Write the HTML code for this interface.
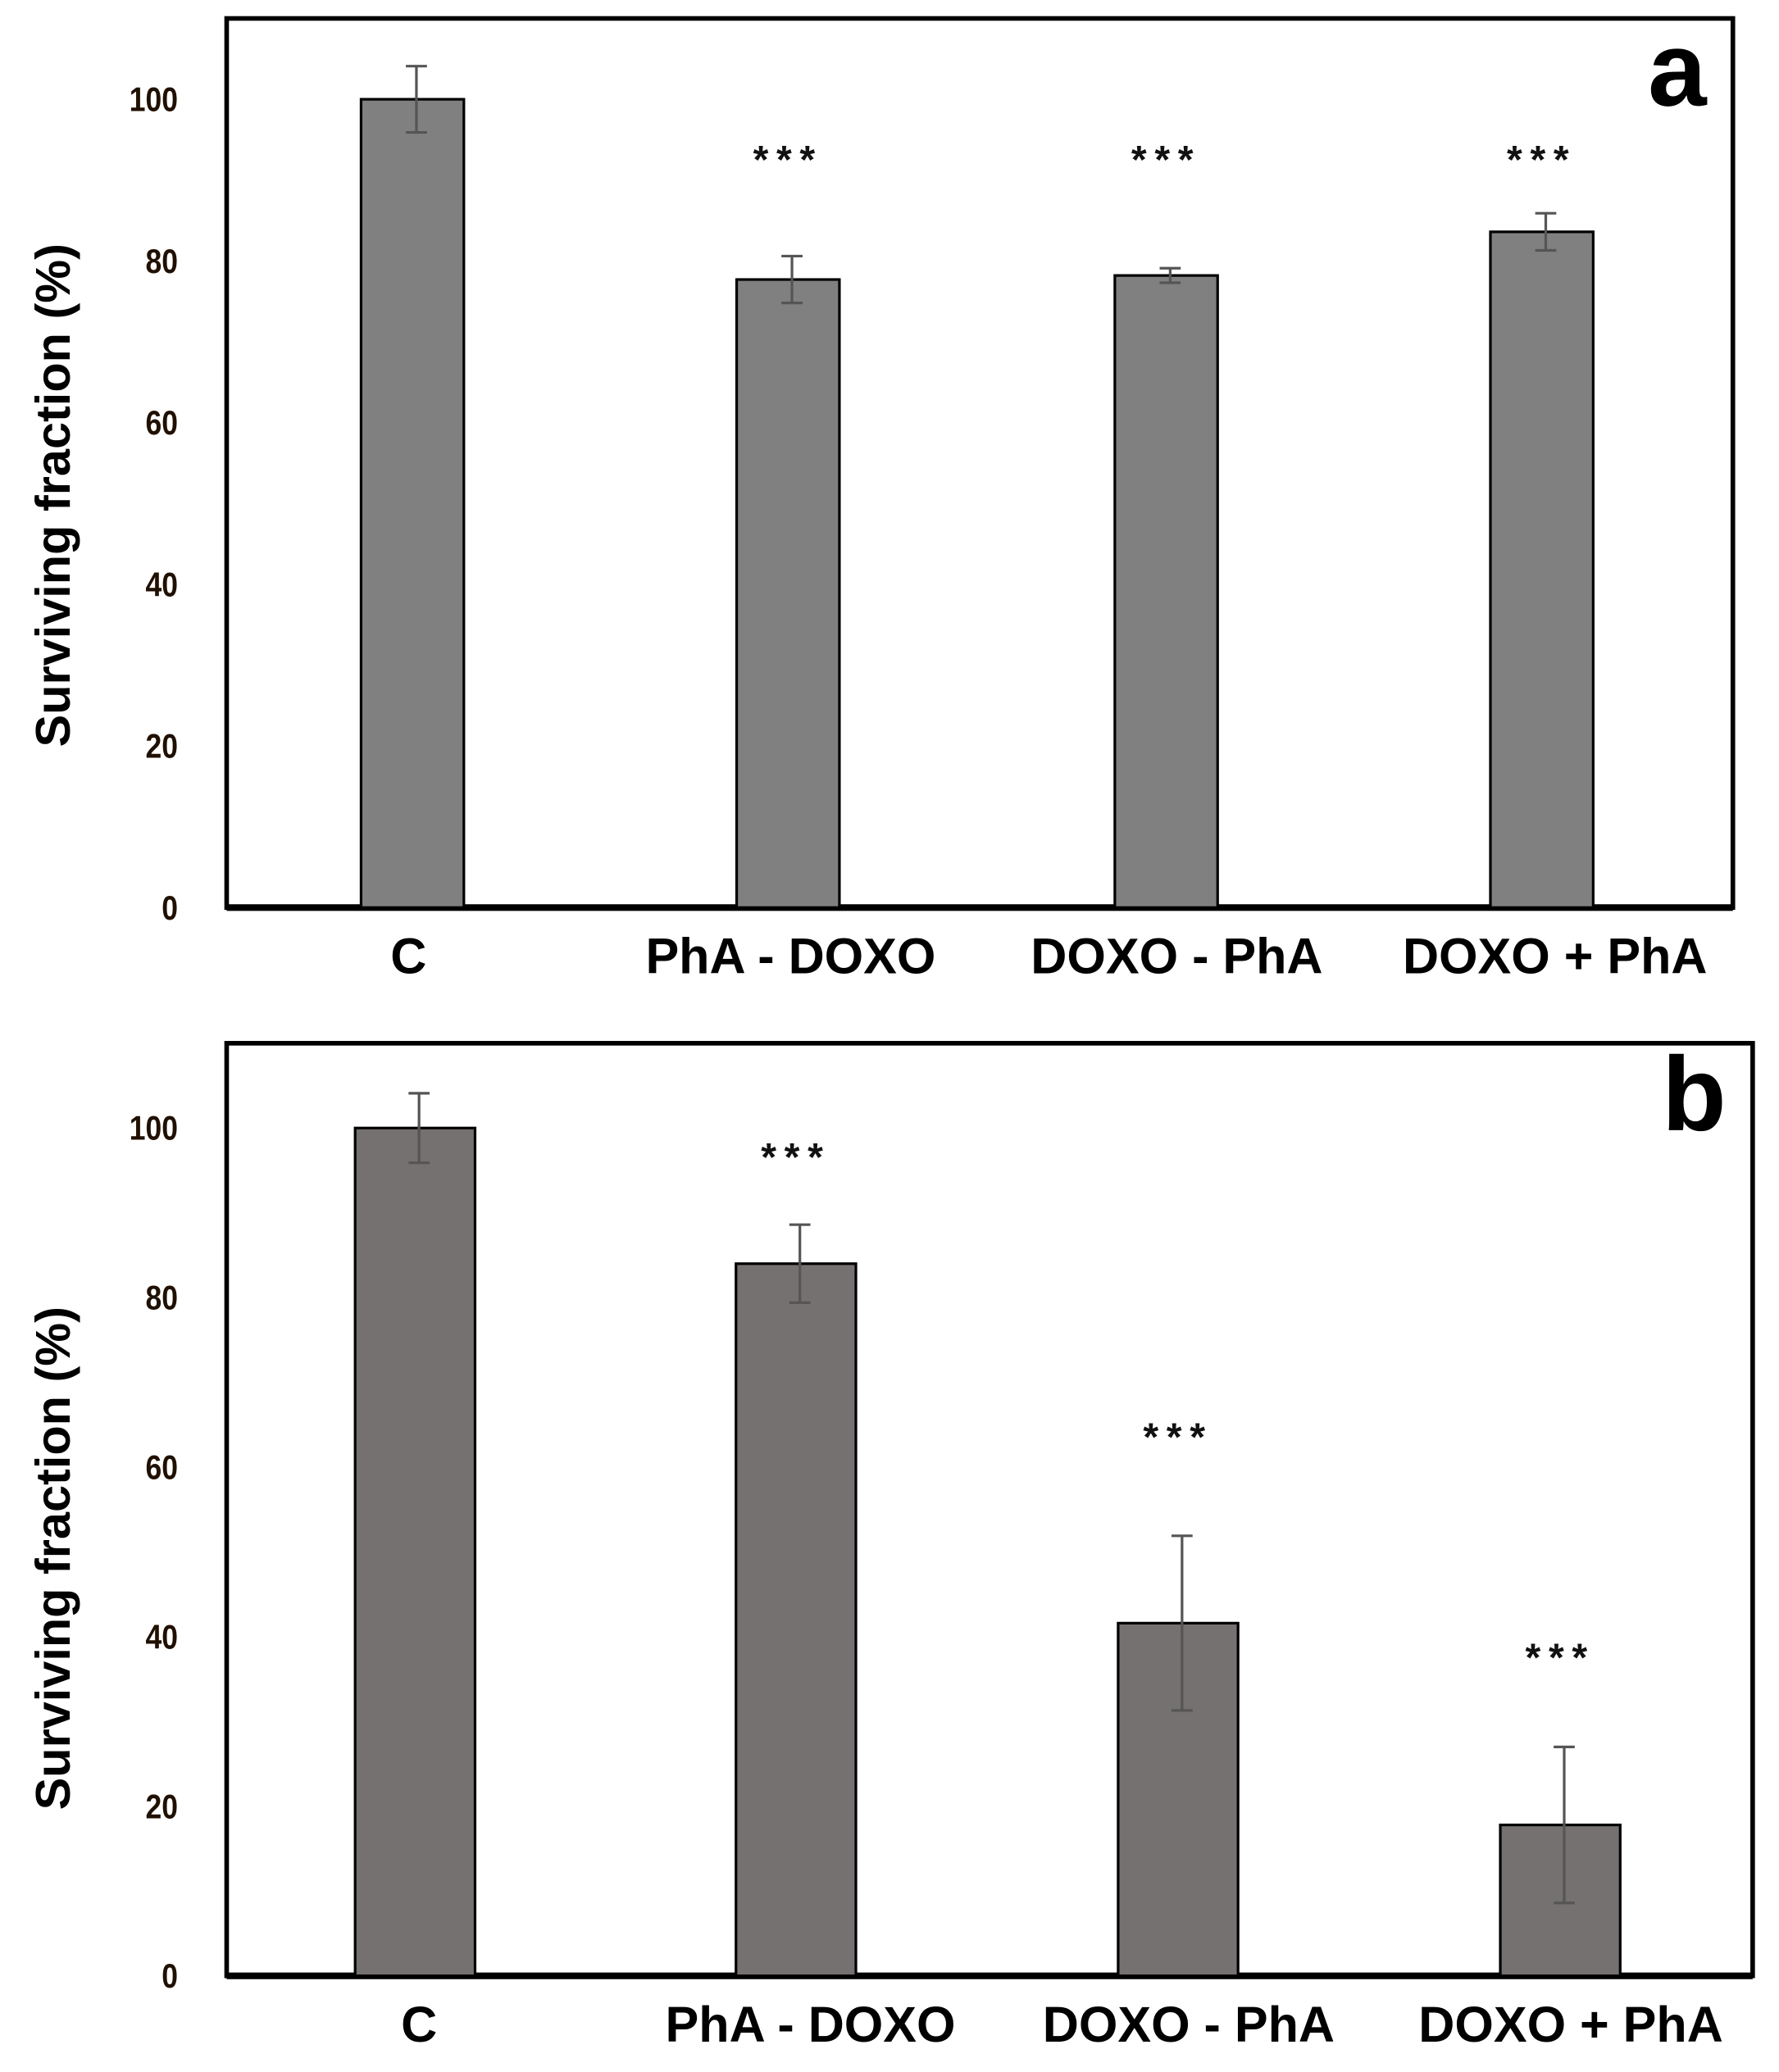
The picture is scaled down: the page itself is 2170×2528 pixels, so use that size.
<!DOCTYPE html>
<html><head><meta charset="utf-8"><style>
html,body{margin:0;padding:0;background:#fff}
svg{display:block}
text{font-family:"Liberation Sans",Arial,sans-serif;font-weight:bold}
</style></head><body>
<svg id="chart" width="2170" height="2528" viewBox="0 0 1350 1573" preserveAspectRatio="none" xmlns="http://www.w3.org/2000/svg">
<rect width="1350" height="1573" fill="#fff"/>
</svg>
<script>
const categories = ["C","PhA - DOXO","DOXO - PhA","DOXO + PhA"];
const valuesA = [100, 77.7, 78.2, 83.6];
const errorsA = [4.1, 2.9, 0.9, 2.3];
const starsA = [null, 93, 93, 93];
const valuesB = [100, 84, 41.6, 17.8];
const errorsB = [4.1, 4.6, 10.3, 9.2];
const starsB = [null, 97, 64, 38];
const yTicks = [0,20,40,60,80,100];

const NS="http://www.w3.org/2000/svg";
const svg=document.getElementById('chart');
function mk(tag,attrs,parent){const e=document.createElementNS(NS,tag);for(const k in attrs)e.setAttribute(k,attrs[k]);(parent||svg).appendChild(e);return e;}

function panel(cfg){
  const g=mk('g',{});
  
  
  const L=cfg.left,R=cfg.right,T=cfg.top,B=cfg.bottom,ymax=110;
  const y=v=>B-(v/ymax)*(B-T);
  const x=i=>cfg.centers[i];
  const fr=mk('rect',{x:L,y:T,width:R-L,height:B-T,fill:'none',stroke:'#000','stroke-width':3.5},g);
  
  
  const ax=mk('line',{x1:L,x2:R,y1:B,y2:B,stroke:'#000','stroke-width':5},g);
  
  
  yTicks.forEach(t=>{
    const tx=mk('text',{x:L-37,y:y(t)+9,'text-anchor':'end','font-size':26,fill:'#201000',transform:`translate(${L-37},0) scale(0.85,1) translate(${-(L-37)},0)`},g);
    tx.textContent=t;
    
    
  });
  cfg.values.forEach((v,i)=>{
    const bw=cfg.barW;
    const r=mk('rect',{x:x(i)-bw/2,y:y(v),width:bw,height:B-y(v),fill:cfg.fill,stroke:'#000','stroke-width':2},g);
    
    
    const e=cfg.errors[i];
    const eg=mk('g',{stroke:'#555','stroke-width':2},g);
    
    
    mk('line',{x1:x(i)+3,x2:x(i)+3,y1:y(v+e),y2:y(v-e)},eg);
    mk('line',{x1:x(i)-5,x2:x(i)+11,y1:y(v+e),y2:y(v+e)},eg);
    mk('line',{x1:x(i)-5,x2:x(i)+11,y1:y(v-e),y2:y(v-e)},eg);
    if(cfg.stars[i]!=null){
      const s=mk('text',{x:x(i),y:y(cfg.stars[i])+13,'text-anchor':'middle','font-size':30,fill:'#111','letter-spacing':6},g);
      s.textContent='***';
      
      
    }
    const c=mk('text',{x:cfg.labelX[i],y:B+50,'text-anchor':'middle','font-size':38,fill:'#000'},g);
    c.textContent=categories[i];
    
    
  });
  const yt=mk('text',{x:0,y:0,'text-anchor':'middle','font-size':37,fill:'#000',transform:`translate(53,${cfg.titleY}) rotate(-90)`},g);
  yt.textContent='Surviving fraction (%)';
  
  
  const pl=mk('text',{x:R-20,y:T+66,'text-anchor':'end','font-size':80,fill:'#000'},g);
  pl.textContent=cfg.id;
  
  
}
panel({id:'a',left:172,right:1315,top:14,bottom:689,centers:[313,598,885,1170],barW:78,fill:'#808080',
  values:valuesA,errors:errorsA,stars:starsA,labelX:[310,600,893,1180],titleY:376});
panel({id:'b',left:172,right:1330,top:792,bottom:1500,centers:[315,604,894,1184],barW:91,fill:'#757170',
  values:valuesB,errors:errorsB,stars:starsB,labelX:[318,615,902,1192],titleY:1183});
</script>
</body></html>
